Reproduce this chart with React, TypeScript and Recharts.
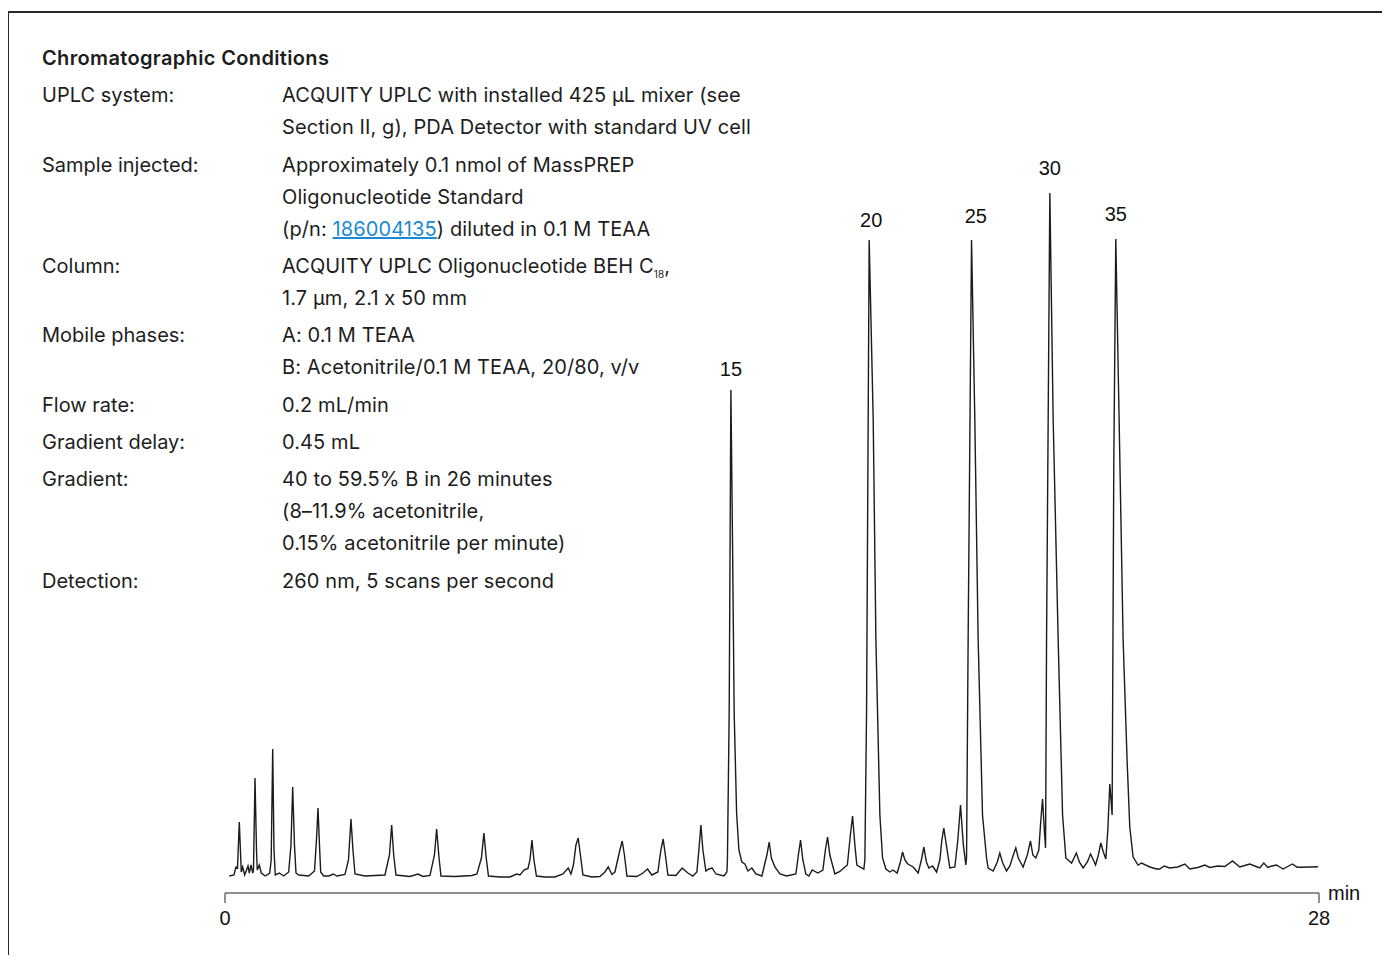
import { ComposedChart, Line, XAxis, YAxis, ReferenceDot } from "recharts";

// retention time (min), absorbance (arbitrary units)
const trace: [number, number][] = [
  [0.11, 0.1], [0.23, 0.2], [0.28, 1.0], [0.32, 0.9], [0.366, 5.5], [0.417, 0.5], [0.453, 1.0], [0.504, 0.2],
  [0.589, 1.1], [0.622, 0.4], [0.665, 1.2], [0.709, 0.4], [0.729, 0.7], [0.768, 9.9], [0.806, 2.7], [0.826, 0.7],
  [0.878, 1.2], [0.929, 0.4], [1.031, 0.1], [1.144, 0.4], [1.182, 1.7], [1.221, 12.8], [1.254, 2.7], [1.287, 0.2],
  [1.389, 0.4], [1.502, 0.1], [1.63, 0.5], [1.689, 3.2], [1.732, 9.0], [1.778, 3.2], [1.817, 0.4], [1.886, 0.2],
  [2.142, 0.1], [2.29, 0.6], [2.341, 3.7], [2.38, 6.9], [2.418, 3.2], [2.449, 0.5], [2.526, 0.1], [2.661, 0.1],
  [2.771, 0.3], [2.866, 0.1], [3.071, 0.25], [3.16, 1.7], [3.224, 5.8], [3.275, 2.7], [3.327, 0.3], [3.582, 0.1],
  [4.094, 0.2], [4.209, 2.2], [4.266, 5.2], [4.317, 2.2], [4.376, 0.2], [4.734, 0.05], [4.939, 0.3], [5.067, 0.05],
  [5.246, 0.15], [5.361, 2.2], [5.417, 4.8], [5.471, 2.2], [5.527, 0.1], [5.885, 0.05], [6.32, 0.15], [6.448, 0.3],
  [6.563, 1.9], [6.627, 4.4], [6.686, 1.9], [6.743, 0.1], [7.037, 0], [7.293, 0], [7.464, 0.3], [7.549, 0.2],
  [7.651, 0.7], [7.754, 0.85], [7.805, 1.7], [7.856, 3.7], [7.907, 1.7], [7.971, 0.1], [8.189, 0], [8.444, 0],
  [8.649, 0.3], [8.785, 0.9], [8.854, 0.3], [8.918, 1.2], [8.982, 3.2], [9.04, 3.9], [9.097, 2.2], [9.161, 0.2],
  [9.391, 0], [9.596, 0.05], [9.724, 0.5], [9.808, 1.0], [9.903, 0.25], [9.98, 0.5], [10.107, 2.7], [10.166, 3.6],
  [10.223, 2.2], [10.287, 0.1], [10.542, 0.05], [10.696, 0.4], [10.816, 0.8], [10.926, 0.2], [11.079, 0.5],
  [11.156, 2.7], [11.215, 3.8], [11.271, 2.2], [11.335, 0.2], [11.54, 0.15], [11.701, 0.9], [11.847, 0.4],
  [11.975, 0.1], [12.077, 0.5], [12.129, 2.7], [12.18, 5.2], [12.231, 2.7], [12.308, 0.6], [12.385, 0.8],
  [12.469, 0.9], [12.564, 0.3], [12.769, 0.1], [12.846, 0.5], [12.859, 1.7], [12.904, 16.4], [12.948, 48.7],
  [12.991, 33.0], [13.032, 16.4], [13.094, 6.4], [13.153, 2.7], [13.229, 1.5], [13.306, 1.3], [13.383, 0.6],
  [13.485, 0.9], [13.588, 0.3], [13.741, 0.1], [13.869, 2.2], [13.928, 3.5], [13.984, 1.9], [14.074, 1.0],
  [14.202, 0.3], [14.373, 0.1], [14.611, 0.3], [14.675, 2.2], [14.731, 3.7], [14.79, 1.7], [14.867, 0.3],
  [14.944, 0.1], [15.028, 0.7], [15.174, 0.4], [15.302, 0.7], [15.366, 2.7], [15.422, 4.0], [15.481, 2.2],
  [15.609, 0.3], [15.737, 0.55], [15.865, 1.0], [15.929, 1.2], [16.006, 4.2], [16.062, 6.1], [16.121, 3.2],
  [16.172, 1.2], [16.351, 0.8], [16.377, 1.7], [16.42, 16.4], [16.487, 63.7], [16.59, 45.8], [16.659, 23.8],
  [16.761, 6.2], [16.83, 1.9], [16.915, 0.8], [17.017, 0.5], [17.094, 0.7], [17.204, 0.4], [17.286, 1.5],
  [17.342, 2.5], [17.401, 1.7], [17.477, 1.3], [17.613, 1.0], [17.741, 0.4], [17.823, 1.7], [17.887, 3.0],
  [17.951, 1.5], [18.015, 0.9], [18.109, 1.1], [18.212, 0.5], [18.296, 1.7], [18.347, 3.7], [18.398, 4.9],
  [18.462, 3.2], [18.552, 0.9], [18.68, 1.0], [18.756, 3.7], [18.825, 7.2], [18.897, 3.2], [18.961, 1.2],
  [18.979, 1.9], [19.02, 23.8], [19.107, 63.7], [19.191, 45.8], [19.276, 23.8], [19.388, 6.2], [19.491, 1.9],
  [19.532, 0.9], [19.66, 0.6], [19.767, 1.5], [19.831, 2.4], [19.895, 1.5], [20.002, 0.6], [20.087, 1.1],
  [20.176, 2.2], [20.24, 2.9], [20.304, 1.9], [20.427, 1.0], [20.534, 2.2], [20.616, 3.6], [20.676, 2.2],
  [20.753, 1.9], [20.829, 2.7], [20.881, 5.7], [20.924, 7.8], [20.97, 4.7], [21.001, 2.9], [21.027, 23.8],
  [21.111, 68.4], [21.196, 45.8], [21.324, 23.8], [21.437, 6.2], [21.521, 1.9], [21.667, 1.4], [21.79, 2.4],
  [21.866, 1.5], [21.964, 0.9], [22.071, 1.5], [22.153, 2.3], [22.225, 1.7], [22.281, 1.2], [22.353, 2.2],
  [22.416, 3.4], [22.48, 2.5], [22.544, 1.8], [22.595, 4.7], [22.646, 9.3], [22.677, 7.7], [22.705, 6.2],
  [22.748, 41.4], [22.799, 63.8], [22.884, 45.8], [22.986, 23.8], [23.088, 11.7], [23.157, 5.0], [23.242, 2.0],
  [23.37, 1.2], [23.457, 1.4], [23.669, 1.0], [23.841, 0.8], [23.925, 0.8], [24.035, 1.1], [24.181, 0.9],
  [24.386, 1.0], [24.565, 1.3], [24.693, 0.8], [24.898, 0.95], [25.077, 1.2], [25.205, 0.95], [25.409, 1.1],
  [25.589, 1.05], [25.786, 1.6], [25.973, 1.0], [26.1, 1.15], [26.228, 1.3], [26.356, 1.1], [26.484, 0.9],
  [26.586, 1.4], [26.689, 0.95], [26.791, 1.1], [26.911, 1.2], [27.08, 0.8], [27.2, 1.05], [27.323, 1.3],
  [27.431, 1.0], [27.508, 0.97], [27.764, 1.0], [27.974, 1.03],
];

// oligo length labels, anchored in data coordinates
const peakLabels = [
  { label: "15", t: 12.948, v: 50.8 },
  { label: "20", t: 16.538, v: 65.7 },
  { label: "25", t: 19.217, v: 66.1 },
  { label: "30", t: 21.111, v: 70.9 },
  { label: "35", t: 22.799, v: 66.3 },
];

const xTicks = [0, 28];

const conditions: { label: string; lines: React.ReactNode[] }[] = [
  {
    label: "UPLC system:",
    lines: [
      "ACQUITY UPLC with installed 425 µL mixer (see",
      "Section II, g), PDA Detector with standard UV cell",
    ],
  },
  {
    label: "Sample injected:",
    lines: [
      "Approximately 0.1 nmol of MassPREP",
      "Oligonucleotide Standard",
      <>
        (p/n:{" "}
        <span style={{ color: "#1a8ad4", textDecoration: "underline" }}>186004135</span>) diluted in 0.1 M TEAA
      </>,
    ],
  },
  {
    label: "Column:",
    lines: [
      <>
        ACQUITY UPLC Oligonucleotide BEH C
        <span style={{ fontSize: 10, position: "relative", top: 5, lineHeight: 0 }}>18</span>,
      </>,
      "1.7 µm, 2.1 x 50 mm",
    ],
  },
  {
    label: "Mobile phases:",
    lines: ["A: 0.1 M TEAA", "B: Acetonitrile/0.1 M TEAA, 20/80, v/v"],
  },
  { label: "Flow rate:", lines: ["0.2 mL/min"] },
  { label: "Gradient delay:", lines: ["0.45 mL"] },
  {
    label: "Gradient:",
    lines: ["40 to 59.5% B in 26 minutes", "(8–11.9% acetonitrile,", "0.15% acetonitrile per minute)"],
  },
  { label: "Detection:", lines: ["260 nm, 5 scans per second"] },
];

const groupTops = [79, 149, 250, 319, 389, 426, 463, 565];

const TEXT_FONT = "Inter, Roboto, sans-serif";
const AXIS_FONT = "'Liberation Sans', Arial, sans-serif";

export default function App() {
  const data = trace.map(([t, v]) => ({ t, v }));

  return (
    <div
      style={{
        position: "relative",
        width: 1374,
        height: 947,
        fontFamily: TEXT_FONT,
        fontFeatureSettings: '"calt" 0',
        color: "#1d1d1d",
      }}
    >
      {/* frame: top and left rules */}
      <div style={{ position: "absolute", left: -1, top: 3, width: 1383, height: 1.5, background: "#2a2a2a" }} />
      <div style={{ position: "absolute", left: -1, top: 3, width: 1.5, height: 952, background: "#2a2a2a" }} />

      <div style={{ position: "absolute", left: -8, top: -8 }}>
        <ComposedChart width={1390} height={940} data={data} margin={{ top: 150, right: 71, bottom: 7, left: 225 }}>
          <XAxis
            dataKey="t"
            type="number"
            domain={[0, 28]}
            ticks={xTicks}
            tickSize={10}
            tickMargin={8}
            height={40}
            axisLine={{ stroke: "#6b6b6b", strokeWidth: 1.5 }}
            tickLine={{ stroke: "#6b6b6b", strokeWidth: 1.5 }}
            tick={{ fontSize: 20, fill: "#111", fontFamily: AXIS_FONT }}
            label={(props: any) => {
              const vb = props.viewBox;
              return (
                <text
                  x={vb.x + vb.width + 9}
                  y={vb.y + 7}
                  fontSize={20}
                  fontFamily={AXIS_FONT}
                  fill="#111"
                >
                  min
                </text>
              );
            }}
          />
          <YAxis type="number" domain={[-1.6, 72.7]} hide />
          <Line
            type="linear"
            dataKey="v"
            stroke="#1b1b1b"
            strokeWidth={1.4}
            dot={false}
            activeDot={false}
            isAnimationActive={false}
          />
          {peakLabels.map((p) => (
            <ReferenceDot
              key={p.label}
              x={p.t}
              y={p.v}
              r={0}
              fill="none"
              stroke="none"
              label={{ value: p.label, position: "center", fontSize: 20, fill: "#111", fontFamily: AXIS_FONT }}
            />
          ))}
        </ComposedChart>
      </div>

      <div
        style={{
          position: "absolute",
          left: 34,
          top: 34,
          fontSize: 20,
          lineHeight: "32px",
          fontWeight: 600,
          letterSpacing: 0.35,
          whiteSpace: "nowrap",
        }}
      >
        Chromatographic Conditions
      </div>

      {conditions.map((c, i) => (
        <div
          key={c.label}
          style={{ position: "absolute", left: 34, top: groupTops[i] - 8, fontSize: 20, lineHeight: "32px" }}
        >
          <div style={{ position: "absolute", left: 0, top: 0, whiteSpace: "nowrap" }}>{c.label}</div>
          <div style={{ position: "absolute", left: 240, top: 0, whiteSpace: "nowrap", letterSpacing: 0.1 }}>
            {c.lines.map((line, j) => (
              <div key={j} style={{ height: 32 }}>
                {line}
              </div>
            ))}
          </div>
        </div>
      ))}
    </div>
  );
}
